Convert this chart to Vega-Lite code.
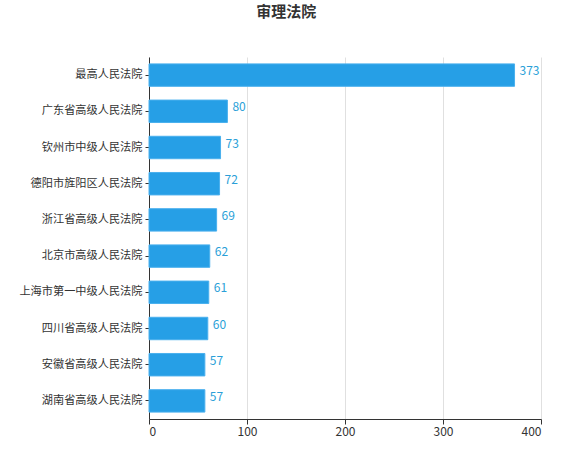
{
  "$schema": "https://vega.github.io/schema/vega-lite/v6.json",
  "width": 392,
  "height": 362,
  "padding": {"left": 18, "top": 5, "right": 20, "bottom": 10},
  "background": "white",
  "title": {"text": "审理法院", "fontSize": 15, "fontWeight": "bold", "color": "#333333", "font": "Noto Sans CJK SC", "anchor": "middle", "frame": "bounds", "offset": 37, "dx": 6},
  "config": {"view": {"stroke": null}, "font": "Noto Sans CJK SC"},
  "data": {"values": [
    {"court": "最高人民法院", "count": 373},
    {"court": "广东省高级人民法院", "count": 80},
    {"court": "钦州市中级人民法院", "count": 73},
    {"court": "德阳市旌阳区人民法院", "count": 72},
    {"court": "浙江省高级人民法院", "count": 69},
    {"court": "北京市高级人民法院", "count": 62},
    {"court": "上海市第一中级人民法院", "count": 61},
    {"court": "四川省高级人民法院", "count": 60},
    {"court": "安徽省高级人民法院", "count": 57},
    {"court": "湖南省高级人民法院", "count": 57}
  ]},
  "encoding": {
    "y": {"field": "court", "type": "nominal", "sort": null, "title": null,
      "scale": {"paddingInner": 0.38, "paddingOuter": 0.19},
      "axis": {"labelFontSize": 11.2, "labelColor": "#333333", "domainColor": "#333333", "tickColor": "#333333", "tickSize": 4, "labelPadding": 3, "grid": false}},
    "x": {"field": "count", "type": "quantitative", "title": null,
      "scale": {"domain": [0, 400]},
      "axis": {"values": [0, 100, 200, 300, 400], "labelFontSize": 12, "labelColor": "#333333", "domainColor": "#333333", "tickColor": "#333333", "tickSize": 5, "gridColor": "#e0e0e0", "labelPadding": 2}}
  },
  "layer": [
    {"mark": {"type": "bar", "color": "#269fe6", "stroke": "#4ab0ee", "strokeWidth": 1}},
    {"mark": {"type": "text", "align": "left", "baseline": "middle", "dx": 5, "dy": -4, "fontSize": 12, "color": "#2a9fd8"},
     "encoding": {"text": {"field": "count", "type": "quantitative"}}}
  ]
}
